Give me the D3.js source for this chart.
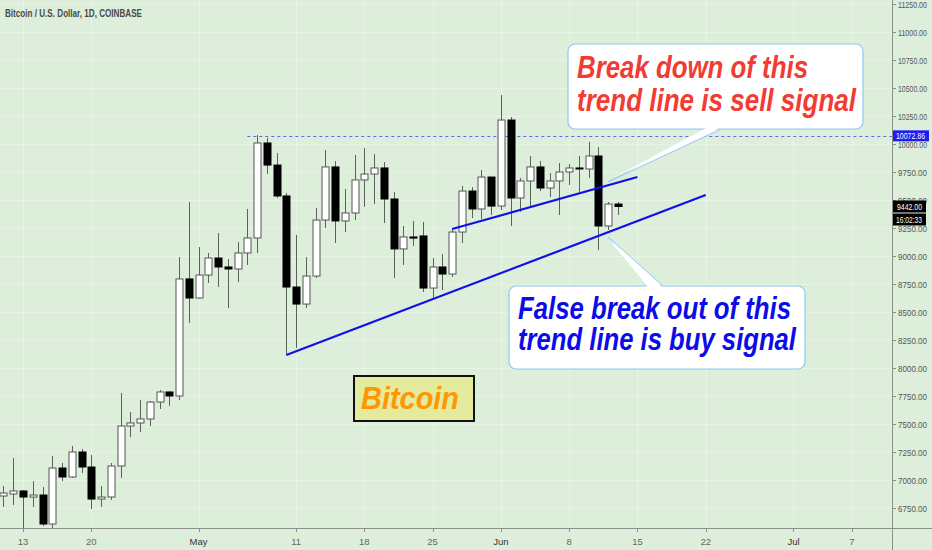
<!DOCTYPE html>
<html>
<head>
<meta charset="utf-8">
<script src="https://cdn.jsdelivr.net/npm/d3@7"></script>
<style>
  html, body { margin: 0; padding: 0; background: #ddefdb; }
  svg { display: block; font-family: "Liberation Sans", Arial, sans-serif; }
</style>
</head>
<body>
<svg id="chart" width="932" height="550"></svg>
<script>
(function () {
  // Daily candles, Apr 11 - Jun 13 2020.
  let firstDay = "2020-04-11";
  let opens = [6857, 6875, 6902, 6848, 6866, 6607, 7107, 7027, 7250, 7116,
    6830, 6848, 7125, 7482, 7509, 7545, 7696, 7786, 7750, 8795,
    8625, 8830, 8982, 8902, 8884, 9027, 9161, 10009, 9812, 9536,
    8723, 8571, 8821, 9321, 9795, 9313, 9384, 9679, 9732, 9786,
    9509, 9063, 9170, 9179, 8714, 8902, 8839, 9214, 9580, 9420,
    9705, 9446, 10214, 9518, 9670, 9795, 9607, 9670, 9750, 9786,
    9777, 9893, 9268, 9464];
  let highs = [6946, 7196, 6910, 6991, 6937, 7214, 7152, 7304, 7277, 7223,
    6946, 7152, 7777, 7607, 7714, 7705, 7804, 7790, 8991, 9482,
    9080, 9027, 9205, 8973, 9125, 9420, 10080, 10054, 9920, 9563,
    9188, 8991, 9429, 9946, 9848, 9598, 9902, 9964, 9911, 9839,
    9571, 9268, 9313, 9304, 8982, 9018, 9250, 9625, 9616, 9768,
    9705, 10437, 10241, 9696, 9893, 9848, 9741, 9830, 9821, 9893,
    10018, 9973, 9482, 9482];
  let lows = [6759, 6777, 6560, 6759, 6589, 6571, 6991, 7018, 7063, 6741,
    6759, 6821, 7018, 7384, 7429, 7482, 7634, 7661, 7714, 8402,
    8620, 8759, 8723, 8536, 8768, 8920, 9027, 9732, 9518, 8116,
    8179, 8536, 8804, 9250, 9116, 9214, 9321, 9438, 9464, 9295,
    8804, 8920, 9089, 8679, 8625, 8696, 8813, 9116, 9339, 9330,
    9366, 9411, 9268, 9393, 9438, 9580, 9527, 9366, 9634, 9571,
    9696, 9054, 9232, 9366];
  let closes = [6884, 6902, 6848, 6866, 6607, 7107, 7027, 7250, 7116, 6830,
    6848, 7125, 7482, 7509, 7545, 7696, 7786, 7750, 8795, 8625,
    8830, 8982, 8902, 8884, 9027, 9161, 10009, 9812, 9536, 8723,
    8571, 8821, 9321, 9795, 9313, 9384, 9679, 9732, 9786, 9509,
    9063, 9170, 9160, 8714, 8902, 8839, 9214, 9580, 9420, 9705,
    9446, 10214, 9518, 9670, 9795, 9607, 9670, 9750, 9786, 9777,
    9893, 9268, 9464, 9442];

  // Axis ticks.
  let priceTicks = d3.range(6750, 11251, 250);
  let dateTicks = ["2020-04-13", "2020-04-20", "2020-05-01", "2020-05-11", "2020-05-18",
    "2020-05-25", "2020-06-01", "2020-06-08", "2020-06-15", "2020-06-22",
    "2020-07-01", "2020-07-07"];
  let dateLabels = ["13", "20", "May", "11", "18", "25", "Jun", "8", "15", "22", "Jul", "7"];

  // Drawings on the chart.
  let sellLine = [["2020-05-27", 9241], ["2020-06-15", 9705]];
  let buyLine = [["2020-05-10", 8116], ["2020-06-22", 9545]];
  let resistance = { from: "2020-05-06", price: 10072.86 };
  let lastPrice = 9442;
  let sellTip = ["2020-06-12", 9661];
  let buyTip = ["2020-06-12", 9170];

  let parse = d3.utcParse("%Y-%m-%d");
  let start = parse(firstDay);
  let candles = opens.map((o, i) => ({
    date: d3.utcDay.offset(start, i),
    open: o, high: highs[i], low: lows[i], close: closes[i]
  }));

  let W = 932, H = 550, axisX = 892, axisY = 528;
  let svg = d3.select("#chart");

  let x = d3.scaleUtc()
    .domain([parse("2020-04-13"), parse("2020-07-07")])
    .range([23, 852]);
  let y = d3.scaleLinear().domain([6750, 11250]).range([508, 4]);

  svg.append("rect").attr("width", W).attr("height", H).attr("fill", "#ddefdb");

  // Grid lines.
  svg.append("g").selectAll("line").data(priceTicks).join("line")
    .attr("x1", 0).attr("x2", axisX)
    .attr("y1", (d) => Math.round(y(d)) + 0.5).attr("y2", (d) => Math.round(y(d)) + 0.5)
    .attr("stroke", "#e7f5e5").attr("stroke-width", 1);
  svg.append("g").selectAll("line").data(dateTicks).join("line")
    .attr("x1", (d) => Math.round(x(parse(d))) + 0.5).attr("x2", (d) => Math.round(x(parse(d))) + 0.5)
    .attr("y1", 0).attr("y2", axisY)
    .attr("stroke", "#e7f5e5").attr("stroke-width", 1);

  // Resistance dashed line.
  svg.append("line")
    .attr("x1", x(parse(resistance.from))).attr("x2", axisX)
    .attr("y1", Math.round(y(resistance.price)) + 0.5).attr("y2", Math.round(y(resistance.price)) + 0.5)
    .attr("stroke", "#6464f0").attr("stroke-dasharray", "3,3");

  // Candles.
  let bw = 7;
  let cg = svg.append("g");
  cg.selectAll("line").data(candles).join("line")
    .attr("x1", (d) => Math.round(x(d.date)) + 0.5).attr("x2", (d) => Math.round(x(d.date)) + 0.5)
    .attr("y1", (d) => y(d.high)).attr("y2", (d) => y(d.low))
    .attr("stroke", "#5a625a").attr("stroke-width", 1);
  cg.selectAll("rect").data(candles).join("rect")
    .attr("x", (d) => Math.round(x(d.date)) - bw / 2 + 0.5)
    .attr("y", (d) => y(Math.max(d.open, d.close)))
    .attr("width", bw)
    .attr("height", (d) => Math.max(1, Math.abs(y(d.open) - y(d.close))))
    .attr("fill", (d) => (d.close >= d.open ? "#ffffff" : "#000000"))
    .attr("stroke", (d) => (d.close >= d.open ? "#555555" : "#000000"))
    .attr("stroke-width", 1);

  // Trend lines.
  let tl = d3.line().x((d) => x(parse(d[0]))).y((d) => y(d[1]));
  [sellLine, buyLine].forEach((pts) => {
    svg.append("path").attr("d", tl(pts))
      .attr("fill", "none").attr("stroke", "#1010e8").attr("stroke-width", 2.2);
  });

  // Callout boxes.
  function callout(bx, by, bw2, bh, tip, base, lines, color, ys, lens) {
    let g = svg.append("g");
    let tx = x(parse(tip[0])), ty = y(tip[1]);
    g.append("path")
      .attr("d", `M${base[0]},${base[2]} L${tx},${ty} L${base[1]},${base[2]}`)
      .attr("fill", "#ffffff").attr("stroke", "#8ec8f4").attr("stroke-width", 1);
    g.append("rect")
      .attr("x", bx).attr("y", by).attr("width", bw2).attr("height", bh)
      .attr("rx", 7).attr("fill", "#ffffff").attr("stroke", "#8ec8f4").attr("stroke-width", 1.2);
    // cover the join between tail and box
    g.append("path")
      .attr("d", `M${base[0] + 1},${base[2]} L${tx},${ty} L${base[1] - 1},${base[2]}`)
      .attr("fill", "#ffffff").attr("stroke", "none")
      .attr("transform", `translate(0,${base[2] > ty ? 1.5 : -1.5})`);
    lines.forEach((t, i) => {
      g.append("text")
        .attr("x", bx + 9).attr("y", ys[i])
        .attr("textLength", lens[i]).attr("lengthAdjust", "spacingAndGlyphs")
        .style("font-weight", "bold").style("font-style", "italic")
        .style("font-size", "31px").style("fill", color)
        .text(t);
    });
  }
  callout(568, 44, 295, 85, sellTip, [706, 721, 129],
    ["Break down of this", "trend line is sell signal"], "#f23b33", [78, 111], [231, 279]);
  callout(509, 286, 296, 83, buyTip, [647, 663, 286],
    ["False break out of this", "trend line is buy signal"], "#0c0ce6", [319, 350], [273, 278]);

  // Bitcoin label.
  svg.append("rect")
    .attr("x", 354).attr("y", 376).attr("width", 120).attr("height", 45)
    .attr("fill", "#e4eb9c").attr("stroke", "#111").attr("stroke-width", 2);
  svg.append("text")
    .attr("x", 361).attr("y", 409)
    .attr("textLength", 98).attr("lengthAdjust", "spacingAndGlyphs")
    .style("font-weight", "bold").style("font-style", "italic")
    .style("font-size", "31px").style("fill", "#ff9800")
    .text("Bitcoin");

  // Axes.
  svg.append("line").attr("x1", axisX + 0.5).attr("x2", axisX + 0.5).attr("y1", 0).attr("y2", H)
    .attr("stroke", "#8a908a");
  svg.append("line").attr("x1", 0).attr("x2", W).attr("y1", axisY + 0.5).attr("y2", axisY + 0.5)
    .attr("stroke", "#8a908a");

  // narrow text helper: condensed look via textLength
  function narrow(sel, len) {
    return sel.attr("textLength", len).attr("lengthAdjust", "spacingAndGlyphs");
  }

  let ya = svg.append("g");
  ya.selectAll("line").data(priceTicks).join("line")
    .attr("x1", axisX).attr("x2", axisX + 4)
    .attr("y1", (d) => Math.round(y(d)) + 0.5).attr("y2", (d) => Math.round(y(d)) + 0.5)
    .attr("stroke", "#8a908a");
  narrow(ya.selectAll("text").data(priceTicks).join("text")
    .attr("x", axisX + 6).attr("y", (d) => y(d) + 3.5)
    .style("font-size", "9.5px").style("fill", "#555")
    .text((d) => d3.format(".2f")(d)), 29);

  let xa = svg.append("g");
  xa.selectAll("line").data(dateTicks).join("line")
    .attr("x1", (d) => Math.round(x(parse(d))) + 0.5).attr("x2", (d) => Math.round(x(parse(d))) + 0.5)
    .attr("y1", axisY).attr("y2", axisY + 4)
    .attr("stroke", "#8a908a");
  xa.selectAll("text").data(dateTicks).join("text")
    .attr("x", (d) => x(parse(d))).attr("y", 545)
    .attr("text-anchor", "middle")
    .style("font-size", "9.5px")
    .style("fill", (d, i) => (isNaN(+dateLabels[i]) ? "#333" : "#666"))
    .text((d, i) => dateLabels[i]);

  // Price labels on the axis.
  let ry = y(resistance.price);
  svg.append("rect").attr("x", axisX + 1).attr("y", ry - 5.5).attr("width", 36).attr("height", 11)
    .attr("fill", "#1c1cf5");
  narrow(svg.append("text").attr("x", axisX + 4).attr("y", ry + 3.5)
    .style("font-size", "9.5px").style("fill", "#fff").text(d3.format(".2f")(resistance.price)), 29);

  let ly = y(lastPrice);
  svg.append("rect").attr("x", axisX + 1).attr("y", ly - 6).attr("width", 33).attr("height", 12)
    .attr("fill", "#000");
  narrow(svg.append("text").attr("x", axisX + 5).attr("y", ly + 3.5)
    .style("font-size", "9.5px").style("fill", "#fff").text(d3.format(".2f")(lastPrice)), 25);
  svg.append("rect").attr("x", axisX + 1).attr("y", ly + 7).attr("width", 33).attr("height", 12)
    .attr("fill", "#000");
  narrow(svg.append("text").attr("x", axisX + 4).attr("y", ly + 16.5)
    .style("font-size", "9.5px").style("fill", "#fff").text("16:02:33"), 26);

  // Title.
  narrow(svg.append("text").attr("x", 5).attr("y", 17)
    .style("font-size", "10px").style("font-weight", "bold").style("fill", "#4a4a4a")
    .text("Bitcoin / U.S. Dollar, 1D, COINBASE"), 137);
})();
</script>
</body>
</html>
